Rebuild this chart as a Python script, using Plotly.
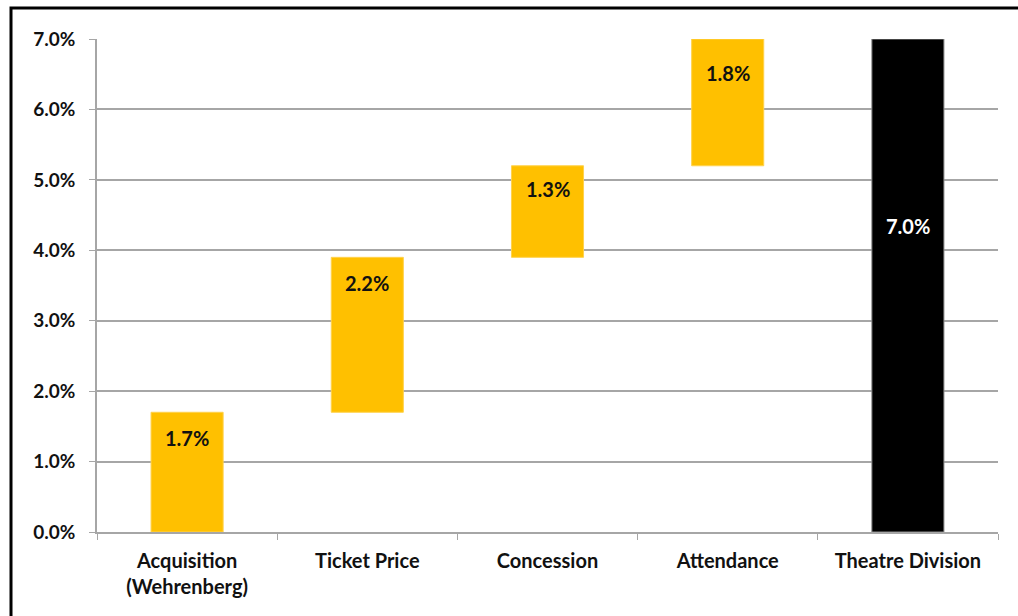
import plotly.graph_objects as go

# Growth contributions (percentage points)
categories = ["Acquisition<br>(Wehrenberg)", "Ticket Price", "Concession", "Attendance", "Theatre Division"]
increments = [1.7, 2.2, 1.3, 1.8]
total = 7.0
label_texts = ["1.7%", "2.2%", "1.3%", "1.8%", "7.0%"]

# Floating bars: each increment starts where the previous one ended
bases = []
running = 0.0
for v in increments:
    bases.append(running)
    running += v
bases.append(0.0)
heights = increments + [total]
tops = [b + h for b, h in zip(bases, heights)]

colors = ["#FFC000"] * len(increments) + ["#000000"]
line_colors = ["#FFD24D"] * len(increments) + ["#8c8c8c"]

FONT = "Lato"
label_shifts = [-26, -26, -23, -34, -187]

fig = go.Figure()
fig.add_trace(go.Bar(
    x=categories,
    y=heights,
    base=bases,
    width=0.4,
    marker=dict(color=colors, line=dict(color=line_colors, width=1)),
    hoverinfo="skip",
))

# Value labels just inside the top of each bar
annotations = []
for i, (cat, top, txt) in enumerate(zip(categories, tops, label_texts)):
    is_total = i == len(categories) - 1
    annotations.append(dict(
        x=cat, y=top,
        xref="x", yref="y",
        text=f"<b>{txt}</b>",
        showarrow=False,
        yanchor="middle",
        yshift=label_shifts[i],
        font=dict(family=FONT, size=20, color="#ffffff" if is_total else "#111111"),
    ))

fig.update_layout(
    width=1018, height=616,
    margin=dict(l=97, r=20, t=39, b=84),
    paper_bgcolor="white", plot_bgcolor="white",
    showlegend=False,
    annotations=annotations,
    font=dict(family=FONT, size=20, color="#111111"),
    shapes=[dict(
        type="rect", xref="paper", yref="paper",
        x0=(11 - 97) / 901, x1=(1040 - 97) / 901,
        y0=(532 - 640) / 493, y1=(532 - 8) / 493,
        line=dict(color="#000000", width=3),
        fillcolor="rgba(0,0,0,0)", layer="below",
    )],
)

fig.update_xaxes(
    showline=True, linecolor="#a6a6a6", linewidth=1.5,
    ticks="outside", tickson="boundaries", ticklen=6, tickcolor="#a6a6a6",
    tickfont=dict(family=FONT, size=20, color="#111111", weight="bold"),
    ticklabelstandoff=10,
    showgrid=False, fixedrange=True,
)
fig.update_yaxes(
    range=[0, 7.0],
    tickvals=[0, 1, 2, 3, 4, 5, 6, 7],
    ticktext=["0.0%", "1.0%", "2.0%", "3.0%", "4.0%", "5.0%", "6.0%", "7.0%"],
    showline=True, linecolor="#a6a6a6", linewidth=1.5,
    ticks="outside", ticklen=6, tickcolor="#a6a6a6",
    showgrid=True, gridcolor="#a6a6a6", gridwidth=1.5,
    tickfont=dict(family=FONT, size=19, color="#111111", weight="bold"),
    ticklabelstandoff=10,
    zeroline=False, fixedrange=True,
)

fig.write_html("out.html")
